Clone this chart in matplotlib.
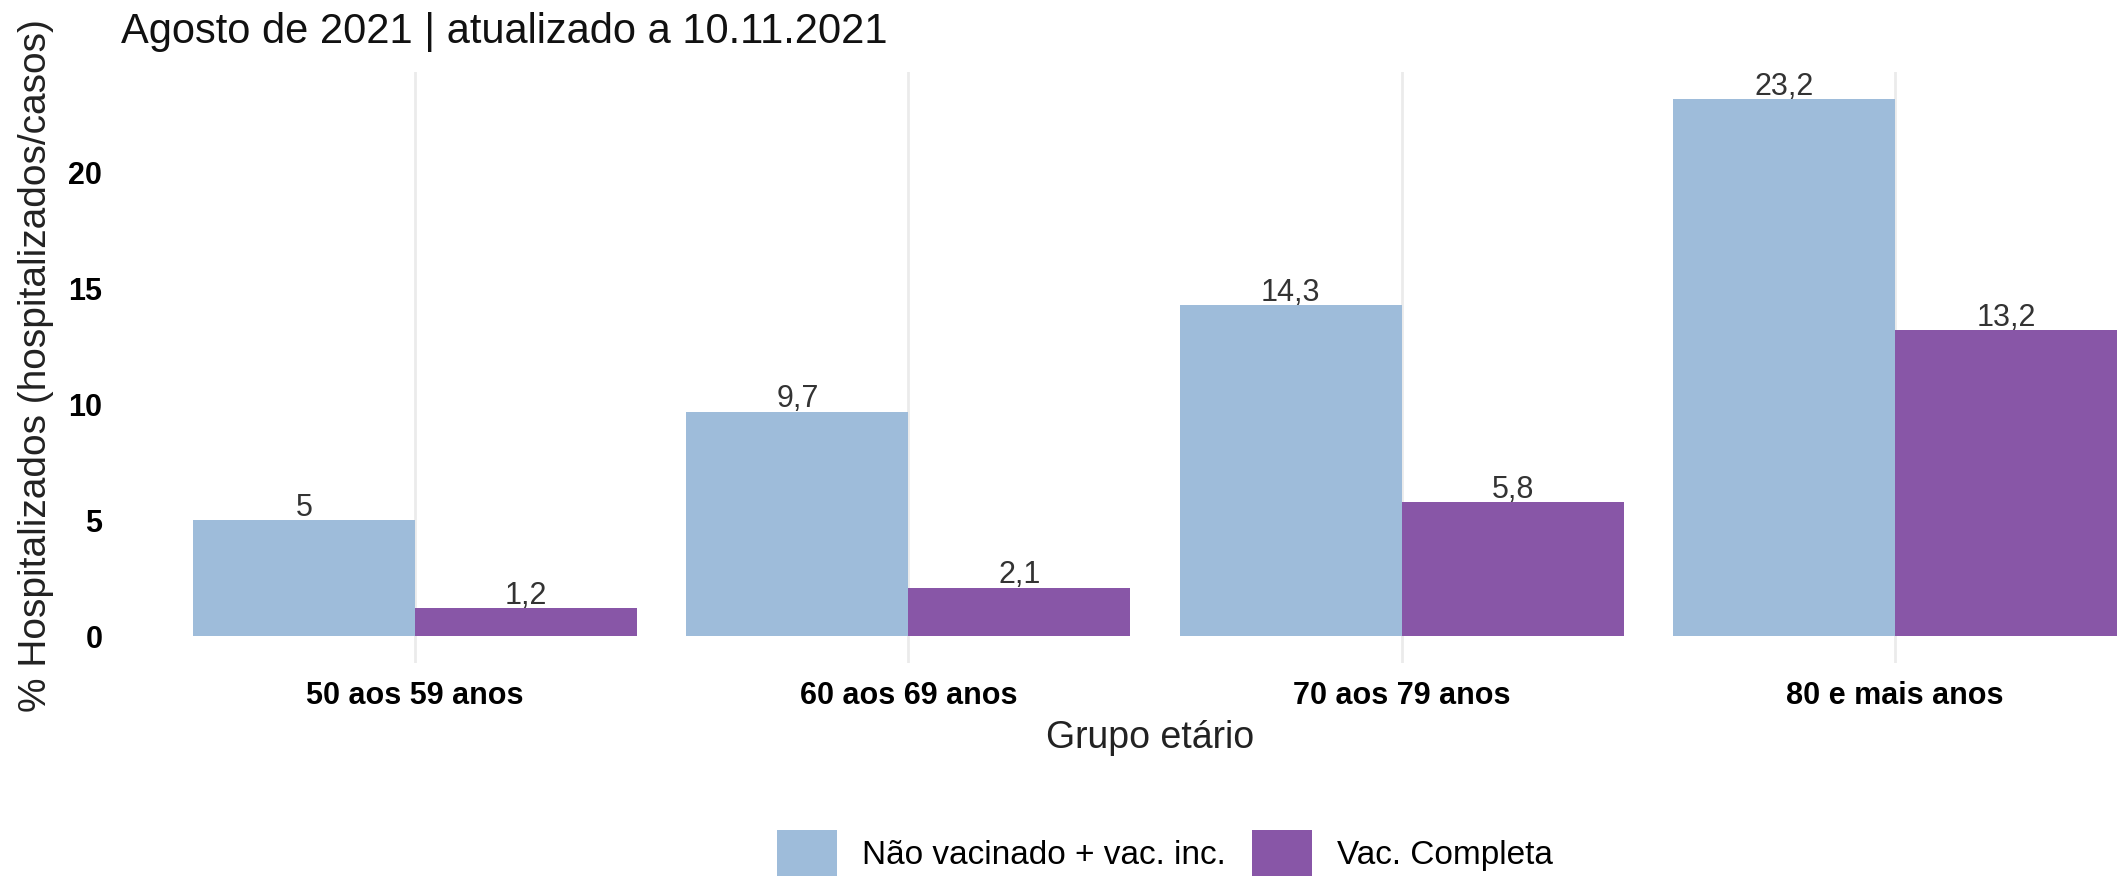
import matplotlib
matplotlib.use("Agg")
import matplotlib.pyplot as plt
import numpy as np

plt.rcParams['font.family'] = ['Liberation Sans', 'DejaVu Sans']

grupos = ['50 aos 59 anos', '60 aos 69 anos', '70 aos 79 anos', '80 e mais anos']
nao_vacinado = [5.0, 9.7, 14.3, 23.2]
vac_completa = [1.2, 2.1, 5.8, 13.2]
series_names = ['Não vacinado + vac. inc.', 'Vac. Completa']
cores = ['#9ebcda', '#8856a7']


def fmt(v):
    s = ('%.1f' % v).rstrip('0').rstrip('.')
    return s.replace('.', ',')


W, H = 2118, 881
fig = plt.figure(figsize=(W / 100, H / 100), dpi=100)
# panel runs past the right edge, like the cropped original
ax = fig.add_axes([119 / W, 218 / H, 2072 / W, 591 / H])

x = np.arange(1, len(grupos) + 1)
bw = 0.45
for i, (vals, nome, cor) in enumerate(zip([nao_vacinado, vac_completa], series_names, cores)):
    pos = x - bw / 2 + i * bw
    ax.bar(pos, vals, width=bw, color=cor, label=nome, zorder=2)
    for p, v in zip(pos, vals):
        ax.annotate(fmt(v), (p, v), xytext=(0, 3), textcoords='offset points',
                    ha='center', va='baseline', fontsize=22, color='#333333')

ax.set_xlim(0.4, 4.6)
ax.set_ylim(-1.16, 24.36)
ax.set_xticks(x)
ax.set_xticklabels(grupos, fontsize=22, fontweight='bold')
ax.set_yticks([0, 5, 10, 15, 20])
ax.set_yticklabels(['0', '5', '10', '15', '20'], fontsize=22, fontweight='bold')
ax.tick_params(axis='x', length=0, pad=13)
ax.tick_params(axis='y', length=0, pad=12)
ax.grid(axis='x', color='#ebebeb', linewidth=2, zorder=0)
ax.grid(axis='y', visible=False)
for s in ax.spines.values():
    s.set_visible(False)

fig.text(121 / W, 1 - 43 / H, 'Agosto de 2021 | atualizado a 10.11.2021',
         fontsize=30, va='baseline', ha='left', color='#111111')
fig.text(36 / W, 1 - 366 / H, '% Hospitalizados (hospitalizados/casos)',
         rotation=90, fontsize=28, ha='center', va='center', color='#222222')
fig.text(1150 / W, 1 - 738 / H, 'Grupo etário', fontsize=27,
         ha='center', va='center', color='#222222')

fig.legend(loc='center', bbox_to_anchor=(1165 / W, 28 / H), ncol=2, frameon=False,
           fontsize=24, handlelength=1.8, handleheight=1.75,
           handletextpad=0.75, columnspacing=0.8)

fig.savefig('out.png', dpi=100)
